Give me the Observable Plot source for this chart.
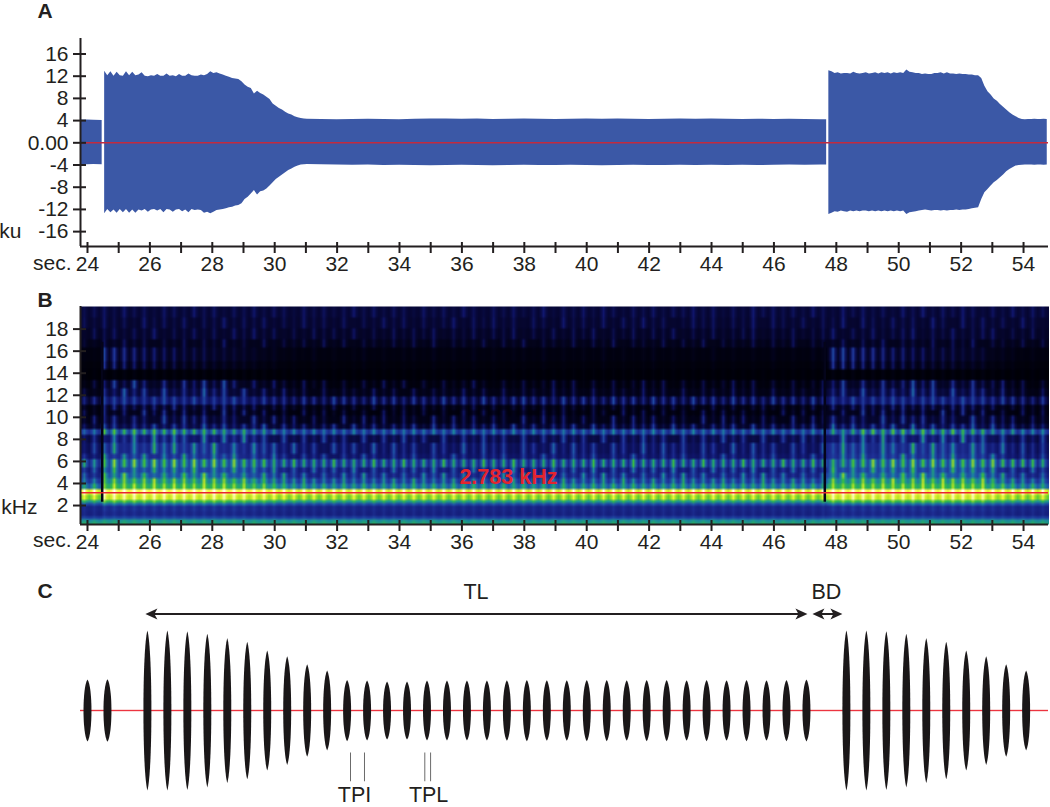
<!DOCTYPE html>
<html>
<head>
<meta charset="utf-8">
<script src="https://cdn.jsdelivr.net/npm/d3@7"></script>
<script src="https://cdn.jsdelivr.net/npm/@observablehq/plot@0.6"></script>
<style>
html,body{margin:0;padding:0;background:#fff;}
svg{display:block;}
</style>
</head>
<body>
<div id="chart"></div>
<script>
// ---------- Panel A: waveform envelope (ku) ----------
const ampTicks = [-16,-12,-8,-4,0,4,8,12,16];
const evenSeconds = [24,26,28,30,32,34,36,38,40,42,44,46,48,50,52,54];
const oddSeconds = [25,27,29,31,33,35,37,39,41,43,45,47,49,51,53];

const introTimes = [23.78,24.0,24.2,24.47];
const introTop = [4.1,4.1,4.05,4.0];
const introBottom = [-3.9,-3.95,-3.9,-3.95];

const burstOneStart = 24.55;
const burstOneTop = [
12.9,12.1,12.8,12.0,12.7,12.1,12.0,12.8,12.1,12.7,
12.1,12.2,12.6,12.0,11.9,12.1,12.0,12.3,12.0,12.0,
12.4,12.0,12.1,11.9,12.3,12.0,12.0,12.4,12.1,12.0,
12.0,12.2,12.1,12.3,12.8,12.5,12.6,12.4,12.2,12.0,
11.8,11.6,11.5,11.4,
11.0,10.4,10.0,9.8,8.8,9.3,8.9,8.6,8.2,7.8,7.0,6.6,6.2,5.9,5.5,5.2,5.0,4.7,4.5,4.4,4.3,4.25];
const burstOneBottom = [
-12.8,-12.0,-12.6,-12.1,-12.7,-12.0,-12.6,-12.0,-12.7,-12.1,
-12.7,-12.1,-12.3,-12.0,-12.5,-12.1,-12.0,-12.3,-12.0,-12.6,
-12.0,-12.1,-12.5,-12.1,-12.0,-12.4,-12.1,-12.6,-12.0,-12.2,
-12.1,-12.2,-12.7,-12.5,-12.8,-12.5,-12.2,-12.1,-12.0,-11.9,
-11.7,-11.6,-11.4,-11.3,
-11.0,-10.2,-9.8,-9.2,-8.6,-9.4,-8.8,-8.7,-8.3,-7.8,-7.2,-6.6,-6.2,-5.8,-5.4,-5.0,-4.7,-4.4,-4.2,-4.0,-3.95,-3.9];

const steadyStart = 31.5;
const steadyTop = [4.2,4.15,4.2,4.25,4.2,4.15,4.25,4.3,4.3,4.25,4.3,4.2,4.25,4.3,4.25,4.2,4.25,4.3,4.25,4.3,4.25,4.2,4.25,4.3,4.25,4.3,4.25,4.2,4.25,4.2,4.25,4.2,4.15];
const steadyBottom = [-3.95,-4,-4.05,-4,-4.1,-4.05,-4.1,-4.15,-4.1,-4.05,-4.1,-4.15,-4.1,-4.05,-4.1,-4.1,-4.05,-4.1,-4.15,-4.1,-4.05,-4.1,-4.1,-4.05,-4.1,-4.05,-4.1,-4.05,-4.1,-4.05,-4,-4.05,-4];
const steadyEnd = 47.69;

const burstTwoStart = 47.76;
const burstTwoTop = [
13.0,12.8,12.5,12.6,12.4,12.5,12.5,12.4,12.7,12.5,
12.4,12.5,12.6,12.4,12.5,12.6,12.4,12.6,12.5,12.6,
12.4,12.6,12.5,12.6,12.5,13.1,12.7,12.6,12.5,12.5,
12.3,12.4,12.3,12.3,12.5,12.5,12.6,12.4,12.6,12.4,
12.4,12.3,12.4,12.3,12.3,12.2,12.2,12.1,
12.1,11.6,10.2,9.2,8.6,7.9,7.5,6.9,6.4,5.9,5.4,5.0,4.7,4.4,4.2,4.15,4.2,4.2,4.25,4.2,4.2,4.25,4.2];
const burstTwoBottom = [
-12.9,-12.7,-12.4,-12.5,-12.3,-12.4,-12.5,-12.3,-12.4,-12.3,
-12.4,-12.3,-12.3,-12.4,-12.3,-12.4,-12.3,-12.4,-12.3,-12.4,
-12.3,-12.4,-12.3,-12.4,-12.3,-12.9,-12.6,-12.5,-12.4,-12.3,
-12.2,-12.1,-12.2,-12.3,-12.2,-12.2,-12.3,-12.2,-12.3,-12.2,
-12.2,-12.1,-12.2,-12.1,-12.1,-12.0,-11.9,-11.8,
-11.7,-10.2,-9.0,-8.4,-7.8,-7.2,-6.8,-6.3,-5.8,-5.2,-4.8,-4.5,-4.2,-4.1,-4.05,-4.0,-4.0,-4.0,-4.05,-4.0,-4.0,-4.05,-4.0];

// ---------- Panel B: spectrogram, read band by band ----------
const kHzTicks = [2,4,6,8,10,12,14,16,18];
const bandTop =   [20.05,19,18,17,16.3,15,14.3,13.4,12.6,11.9,11.2,10.7,10.1,9.5,8.95,8.35,7.6,6.8,6.25,5.55,5,4.5,4,3.6,3.4,2.9,2.6,2.3,2,1.6,1,0.8,0.6,0.45];
const bandGroup = ["t1","t2","t3","t4","hi","hi","","u1","u2","b11","d1","d2","d3","u3","b8","s1","s2","s3","b6","l1","l2","l3","l4","","","","","","","","","","",""];
const peakSteady = [1.6,1.5,1.3,1.1,0.8,0.5,0.2,1.0,1.2,2.8,1.2,1.2,1.6,2.2,4.6,2.6,3.0,3.0,6.0,3.6,4.0,4.8,6.0,7.4,10,8.8,6.6,4.2,2.8,2.7,3.6,5.4,7.2,6.2];
const gapSteady  = [1.0,0.9,0.7,0.4,0.2,0.1,0.0,0.1,0.3,0.9,0.1,0.1,0.3,0.7,2.6,1.2,1.5,1.7,2.4,2.0,2.2,2.8,3.8,5.6,8.2,7.2,5.0,3.4,2.4,2.3,3.2,4.8,6.6,5.4];
const peakBurst  = [1.7,1.6,1.5,1.3,2.2,1.8,0.3,2.4,2.8,3.2,2.2,2.2,2.4,3.0,5.6,4.0,4.6,4.6,6.4,5.2,5.8,6.8,7.6,8.2,10,9.6,7.6,5.0,3.2,2.9,3.8,5.6,7.2,6.2];
const gapBurst   = [1.0,0.9,0.8,0.5,0.6,0.3,0.0,0.6,1.0,1.7,0.5,0.4,0.8,1.1,3.0,1.8,2.4,2.6,3.2,3.2,3.6,4.6,5.8,7.0,8.8,8.0,6.2,4.0,2.6,2.5,3.4,5.0,6.6,5.4];

// per-pulse strength (0-9, 5 = typical) for each group of bands, 97 pulses
const pulseStrength = {
  t1:  "4563745265 3746254736 5274635847 3652746385 2647359264 7385264736 5847263957 4638527463 5274836475 2638475",
  t2:  "6374528463 7254836472 5384627153 8472635927 4836175294 6382759461 3857264918 5372649185 3746295184 7362951",
  t3:  "2857364925 4736285947 2638574926 3847592648 3759264837 5926483759 2648357926 4835792648 3579264835 7926483",
  t4:  "5273846153 7264935182 6473928165 3748291653 8274916538 2749165382 7491653827 4916538274 9165382749 1653827",
  hi:  "1198765544 3332222212 1213121231 2122131213 1212213121 2131212312 1213121213 1213299877 6554433322 2122121",
  u1:  "2748395162 7483951627 5394816273 9481627359 4162735948 1627359481 6273594816 2735948162 7359481627 3594816",
  u2:  "6253947182 5394718263 9471826539 4718265394 7182653947 1826539471 8265394718 2653947182 6539471826 5394718",
  u3:  "4376254736 5284736592 7463582947 3658294736 5829473658 2947365829 4736582947 3658294736 5829473658 2947365",
  b11: "4566765676 5765675465 5465476547 5646547564 7546756475 6547564756 4756475647 5647564756 6765676576 6576546",
  d1:  "4367645647 5346754635 7463574637 4563746357 4635746375 4635743657 4637463574 6357463574 5674654675 4635746",
  d2:  "7362518473 6251847362 5184736251 8473625184 7362518473 2651847362 5184736251 8473625184 7362518473 6251847",
  d3:  "3857264193 8572641938 5726419385 7264193857 2641938572 6419385726 4193857264 1938572641 9385726419 3857264",
  b8:  "4588787878 7777667666 5656565656 5656565656 5656565656 5656565656 5656565656 5656565688 7887877877 7667666",
  s1:  "3617382947 5182739461 8273946182 7394618273 9461827394 6182739461 8273946182 7394618273 9461827394 6182739",
  s2:  "2748162958 3749162857 3946185729 3846175293 8461752938 4617529384 6175293846 1752938461 7529384617 5293846",
  s3:  "5392748163 9527481639 5274816395 2748163952 7481639527 4816395274 8163952748 1639527481 6395274816 3952748",
  b6:  "5467676767 6767676665 5655565556 5565556555 6556555655 5655565556 5565556555 6556555667 6767676767 6766665",
  l1:  "4759263857 4926385749 2638574926 3857492638 5749263857 4926385749 2638574926 3857492638 5749263857 4926385",
  l2:  "6385947263 8594726385 9472638594 7263859472 6385947263 8594726385 9472638594 7263859472 6385947263 8594726",
  l3:  "5567767867 7687768676 7686567565 6758656756 6857657586 5675865756 8656756586 5765675676 7867868776 8767656",
  l4:  "5657676767 7676767676 6565656565 5656565656 6565656565 5656565656 6565656565 5656565676 7676767676 7676565"
};
const pulseShape = [0.35,1,0.35,0.05];
const spectroRows = 80;
const spectroCols = 388;
const lineTimes = [24.47,47.63];

// palette of the spectrogram
const levelStops = [0,1,2,3,4,5,6,7,8,9,10];
const levelColors = ["#000006","#060630","#10166e","#1f3299","#1f58a8","#1c8c9c","#25a86a","#3cc33a","#b4e324","#fdf93c","#ffffff"];

// ---------- Panel C: schematic of the pulse train ----------
const trainSlots = [0,1,
  3,4,5,6,7,8,9,10,11,12,13,14,15,16,17,18,19,20,21,22,23,24,25,26,27,28,29,30,31,32,33,34,35,36,
  38,39,40,41,42,43,44,45,46,47];
const trainPeaks = [4.96,5.0,
  12.8,12.8,12.7,12.3,11.6,11.0,9.6,8.7,7.4,6.4,4.9,4.8,4.65,4.65,4.8,4.8,4.8,4.8,4.85,4.9,4.85,4.85,4.9,4.9,4.85,4.9,4.9,4.85,4.9,4.85,4.9,4.85,4.9,4.95,
  12.8,12.8,12.7,12.3,11.6,11.0,9.6,8.7,7.4,6.4];
const tlSpan = [2.9,36.05];
const bdSpan = [36.3,37.8];
const tpiSlots = [13.17,13.87];
const tplSlots = [16.89,17.18];

// ---------- styling ----------
const ink = "#231f20";
const font = "'Liberation Sans', Arial, sans-serif";
const W = 1050;
const secDomain = [23.776,54.8];
const ampFormat = d => d === 0 ? "0.00" : String(d);

function timeAxes(bottom){
  return [
    Plot.ruleY([bottom],{stroke:ink,strokeWidth:2}),
    Plot.axisX({ticks:oddSeconds,tickSize:11,dy:-4,tickFormat:()=>"",stroke:ink,strokeWidth:2,label:null}),
    Plot.axisX({ticks:evenSeconds,tickSize:11,dy:-4,tickPadding:3,stroke:ink,strokeWidth:2,fill:ink,label:null,tickFormat:d=>String(d)})
  ];
}
function textAt(str,x,y,opt={}){
  return Plot.text([str],{x:()=>x,y:()=>y,text:d=>d,lineAnchor:"bottom",fill:ink,...opt});
}

// ---------- build A table ----------
const env = [];
introTimes.forEach((t,i)=>env.push({t,top:introTop[i],bottom:introBottom[i],seg:0}));
burstOneTop.forEach((v,i)=>env.push({t:burstOneStart+0.1*i,top:v,bottom:burstOneBottom[i],seg:1}));
steadyTop.forEach((v,i)=>env.push({t:steadyStart+0.5*i,top:v,bottom:steadyBottom[i],seg:1}));
env.push({t:steadyEnd,top:steadyTop.at(-1),bottom:steadyBottom.at(-1),seg:1});
burstTwoTop.forEach((v,i)=>env.push({t:burstTwoStart+0.1*i,top:v,bottom:burstTwoBottom[i],seg:2}));

const plotA = Plot.plot({
  width:W,height:285,marginTop:38,marginBottom:39,marginLeft:80,marginRight:2,
  style:{fontFamily:font,fontSize:"21px",background:"#fff",color:ink},
  x:{domain:secDomain},
  y:{domain:[-18.68,18.79]},
  marks:[
    Plot.areaY(env,{x:"t",y1:"bottom",y2:"top",z:"seg",fill:"#3b58a6",curve:"linear"}),
    Plot.ruleY([0],{stroke:"#c32a3e",strokeWidth:1.5}),
    Plot.ruleX([secDomain[0]],{y1:-18.68,y2:18.79,stroke:ink,strokeWidth:2}),
    Plot.axisY({ticks:ampTicks,tickSize:13,tickPadding:5,dx:6,stroke:ink,strokeWidth:2,fill:ink,label:null,tickFormat:ampFormat}),
    ...timeAxes(-18.68),
    textAt("sec.",(71-87)/31.2+24,-22.83,{textAnchor:"end",fontSize:21}),
    textAt("ku",21.88,-17.06,{textAnchor:"end",fontSize:21}),
    textAt("A",22.4,22.4,{textAnchor:"start",fontSize:21,fontWeight:"bold"})
  ]
});

// ---------- build B raster ----------
const envTimes = env.map(d=>d.t);
function burstWeight(t){
  const i = Math.min(d3.bisectLeft(envTimes,t),env.length-1);
  const w = (env[i].top-4.2)/8;
  return Math.max(0,Math.min(1,w));
}
const cleanStrength = Object.fromEntries(Object.entries(pulseStrength).map(([k,v])=>[k,v.replace(/\s/g,"")]));
const stepT = 0.08;
const fTop = 20.05, fBot = 0.28;
const spectro = [];
for (let r=0;r<spectroRows;r++){
  const f = fTop-(r+0.5)*(fTop-fBot)/spectroRows;
  let b = 0;
  while (b+1<bandTop.length && bandTop[b+1]>=f) b++;
  const g = cleanStrength[bandGroup[b]];
  for (let c=0;c<spectroCols;c++){
    const t = secDomain[0]+c*stepT;
    const p = Math.floor(c/4);
    const w = burstWeight(t);
    const peak = peakSteady[b]+(peakBurst[b]-peakSteady[b])*w;
    const gap = gapSteady[b]+(gapBurst[b]-gapSteady[b])*w;
    const d = g ? +(g[Math.min(p,g.length-1)]) : 5;
    const v = gap+(peak-gap)*(d/5)*pulseShape[c%4];
    spectro.push(Math.max(0,Math.min(10,v)));
  }
}

const plotB = Plot.plot({
  width:W,height:285,marginTop:21,marginBottom:46,marginLeft:80,marginRight:2,
  style:{fontFamily:font,fontSize:"21px",background:"#fff",color:ink},
  x:{domain:secDomain},
  y:{domain:[fBot,fTop]},
  color:{type:"linear",domain:levelStops,range:levelColors,interpolate:"rgb"},
  marks:[
    Plot.raster(spectro,{width:spectroCols,height:spectroRows,x1:secDomain[0],x2:secDomain[0]+spectroCols*stepT,y1:fTop,y2:fBot,imageRendering:"auto"}),
    Plot.ruleX(lineTimes,{y1:2.3,y2:16.8,stroke:"#04041a",strokeWidth:2.5}),
    Plot.ruleY([3.15],{stroke:"#e8262d",strokeWidth:1.5}),
    Plot.ruleX([secDomain[0]],{y1:fBot,y2:fTop,stroke:ink,strokeWidth:2}),
    Plot.axisY({ticks:kHzTicks,tickSize:13,tickPadding:5,dx:6,stroke:ink,strokeWidth:2,fill:ink,label:null,tickFormat:d=>String(d)}),
    ...timeAxes(fBot),
    textAt("2.783 kHz",37.49,3.95,{textAnchor:"middle",fontSize:21.5,fontWeight:"bold",fill:"#e3252f"}),
    textAt("sec.",(71-87)/31.2+24,-1.72,{textAnchor:"end",fontSize:21}),
    textAt("kHz",(37-87)/31.2+24,1.27,{textAnchor:"end",fontSize:21}),
    textAt("B",22.4,20.0,{textAnchor:"start",fontSize:21,fontWeight:"bold"})
  ]
});

// ---------- build C ----------
const ellipseShape = {draw(ctx,l,r){
  const k = r*1.33;
  ctx.moveTo(0,0);
  ctx.bezierCurveTo(k,-l*0.12,k,-l*0.88,0,-l);
  ctx.bezierCurveTo(-k,-l*0.88,-k,-l*0.12,0,0);
  ctx.closePath();
}};
const barbShape = {draw(ctx,l,r){
  ctx.moveTo(0,-l);
  ctx.lineTo(r,0);
  ctx.lineTo(0,-l*0.25);
  ctx.lineTo(-r,0);
  ctx.closePath();
}};
const pulses = trainSlots.map((s,i)=>({s,peak:trainPeaks[i]}));
const arrowY = 15.44;
const cX = {domain:[-0.35,48.12],range:[80,1048]};
const heads = [
  {x:tlSpan[0],rot:-90},{x:tlSpan[1],rot:90},
  {x:bdSpan[0],rot:-90},{x:bdSpan[1],rot:90}
];
const plotC = Plot.plot({
  width:W,height:237,marginTop:0,marginBottom:0,marginLeft:0,marginRight:0,
  style:{fontFamily:font,fontSize:"21.5px",background:"#fff",color:ink},
  x:{domain:cX.domain,range:cX.range,axis:null},
  y:{domain:[-15.52,22.4],range:[237,0],axis:null},
  length:{domain:[0,25.6],range:[0,160]},
  marks:[
    Plot.ruleY([0],{x1:cX.domain[0],x2:cX.domain[1],stroke:"#f7b5b5",strokeWidth:2.2}),
    Plot.ruleY([0],{x1:cX.domain[0],x2:cX.domain[1],stroke:"#ec3440",strokeWidth:1.2}),
    Plot.vector(pulses,{x:"s",y:()=>0,length:d=>2*d.peak,anchor:"middle",shape:ellipseShape,r:4,fill:"#1a1718",stroke:"none"}),
    Plot.link([tlSpan,bdSpan],{x1:d=>d[0]+0.2,x2:d=>d[1]-0.2,y1:arrowY,y2:arrowY,stroke:ink,strokeWidth:2}),
    Plot.vector(heads,{x:"x",y:()=>arrowY,length:12,rotate:"rot",anchor:"end",shape:barbShape,r:5.5,fill:ink,stroke:"none"}),
    Plot.ruleX([...tpiSlots,...tplSlots],{y1:-6.8,y2:-11.4,stroke:"#6b6b6b",strokeWidth:1}),
    textAt("TL",19.45,17.92,{textAnchor:"middle"}),
    textAt("BD",37,17.92,{textAnchor:"middle"}),
    textAt("TPI",13.37,-14.7,{textAnchor:"middle"}),
    textAt("TPL",17.08,-14.7,{textAnchor:"middle"}),
    textAt("C",-2.5,18.0,{textAnchor:"start",fontSize:21,fontWeight:"bold"})
  ]
});

const host = document.getElementById("chart");
host.append(plotA,plotB,plotC);
</script>
</body>
</html>
